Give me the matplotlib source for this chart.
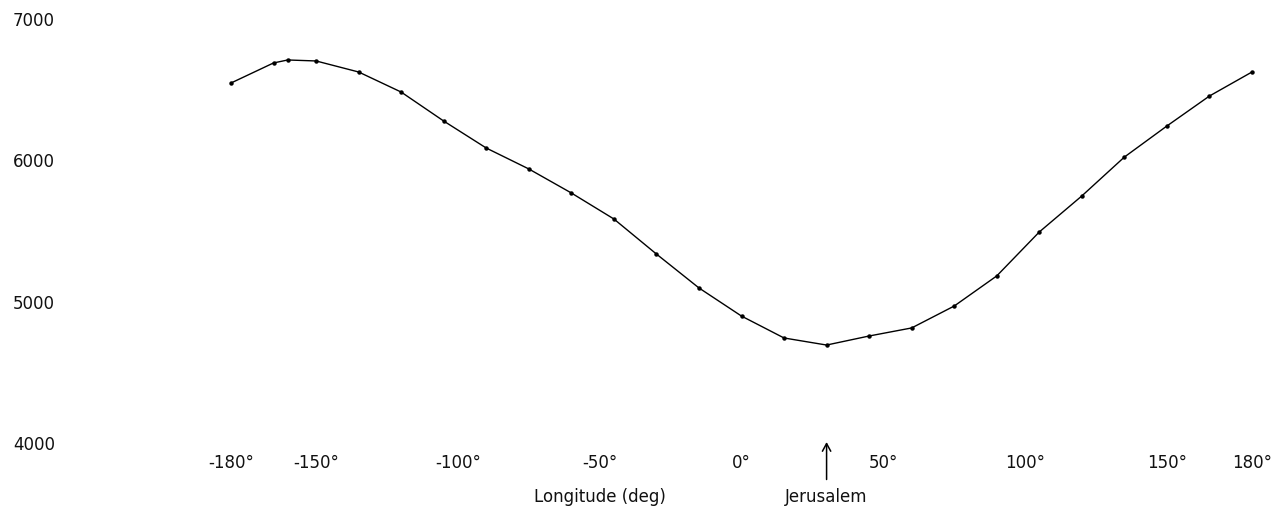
import matplotlib
matplotlib.use("Agg")
import matplotlib.pyplot as plt

# readings, every 15 deg (plus one extra near the top)
longitude = [-180, -165, -160, -150, -135, -120, -105, -90, -75, -60, -45, -30, -15,
             0, 15, 30, 45, 60, 75, 90, 105, 120, 135, 150, 165, 180]
value = [6540, 6682, 6703, 6696, 6618, 6476, 6271, 6080, 5932, 5762, 5578, 5330, 5090,
         4891, 4736, 4686, 4750, 4807, 4962, 5175, 5486, 5741, 6016, 6236, 6448, 6618]

x_ticks = [-180, -150, -100, -50, 0, 50, 100, 150, 180]
x_labels = ["-180°", "-150°", "-100°", "-50°", "0°", "50°", "100°", "150°", "180°"]
y_ticks = [4000, 5000, 6000, 7000]
y_labels = ["4000", "5000", "6000", "7000"]

jerusalem = 30

W, H = 1286, 510
fig = plt.figure(figsize=(W / 100, H / 100), dpi=100)
ax = fig.add_axes([231 / W, (H - 443) / H, (1252 - 231) / W, (443 - 19) / H])

ax.plot(longitude, value, color="black", lw=1.0, marker="o", ms=2.2, clip_on=False)

ax.set_xlim(-180, 180)
ax.set_ylim(4000, 7000)
for s in ax.spines.values():
    s.set_visible(False)

ax.set_xticks(x_ticks)
ax.set_xticklabels(x_labels, fontsize=12, color="#111111")
ax.set_yticks(y_ticks)
ax.set_yticklabels(y_labels, fontsize=12, color="#111111")
for lab in ax.get_yticklabels():
    lab.set_ha("left")
ax.tick_params(axis="x", length=0, pad=8)
ax.tick_params(axis="y", length=0, pad=157)

ax.annotate("Longitude (deg)", xy=(-50, 4000), xytext=(0, -39), textcoords="offset points",
            ha="center", va="center", fontsize=12, color="#111111", annotation_clip=False)
ax.annotate("", xy=(jerusalem, 4000), xytext=(0, -27), textcoords="offset points",
            arrowprops=dict(arrowstyle="->,head_length=0.55,head_width=0.3", color="black",
                            lw=1.1, shrinkA=0, shrinkB=0),
            annotation_clip=False)
ax.annotate("Jerusalem", xy=(jerusalem, 4000), xytext=(0, -39), textcoords="offset points",
            ha="center", va="center", fontsize=12, color="#111111", annotation_clip=False)

fig.savefig("out.png", dpi=100)
